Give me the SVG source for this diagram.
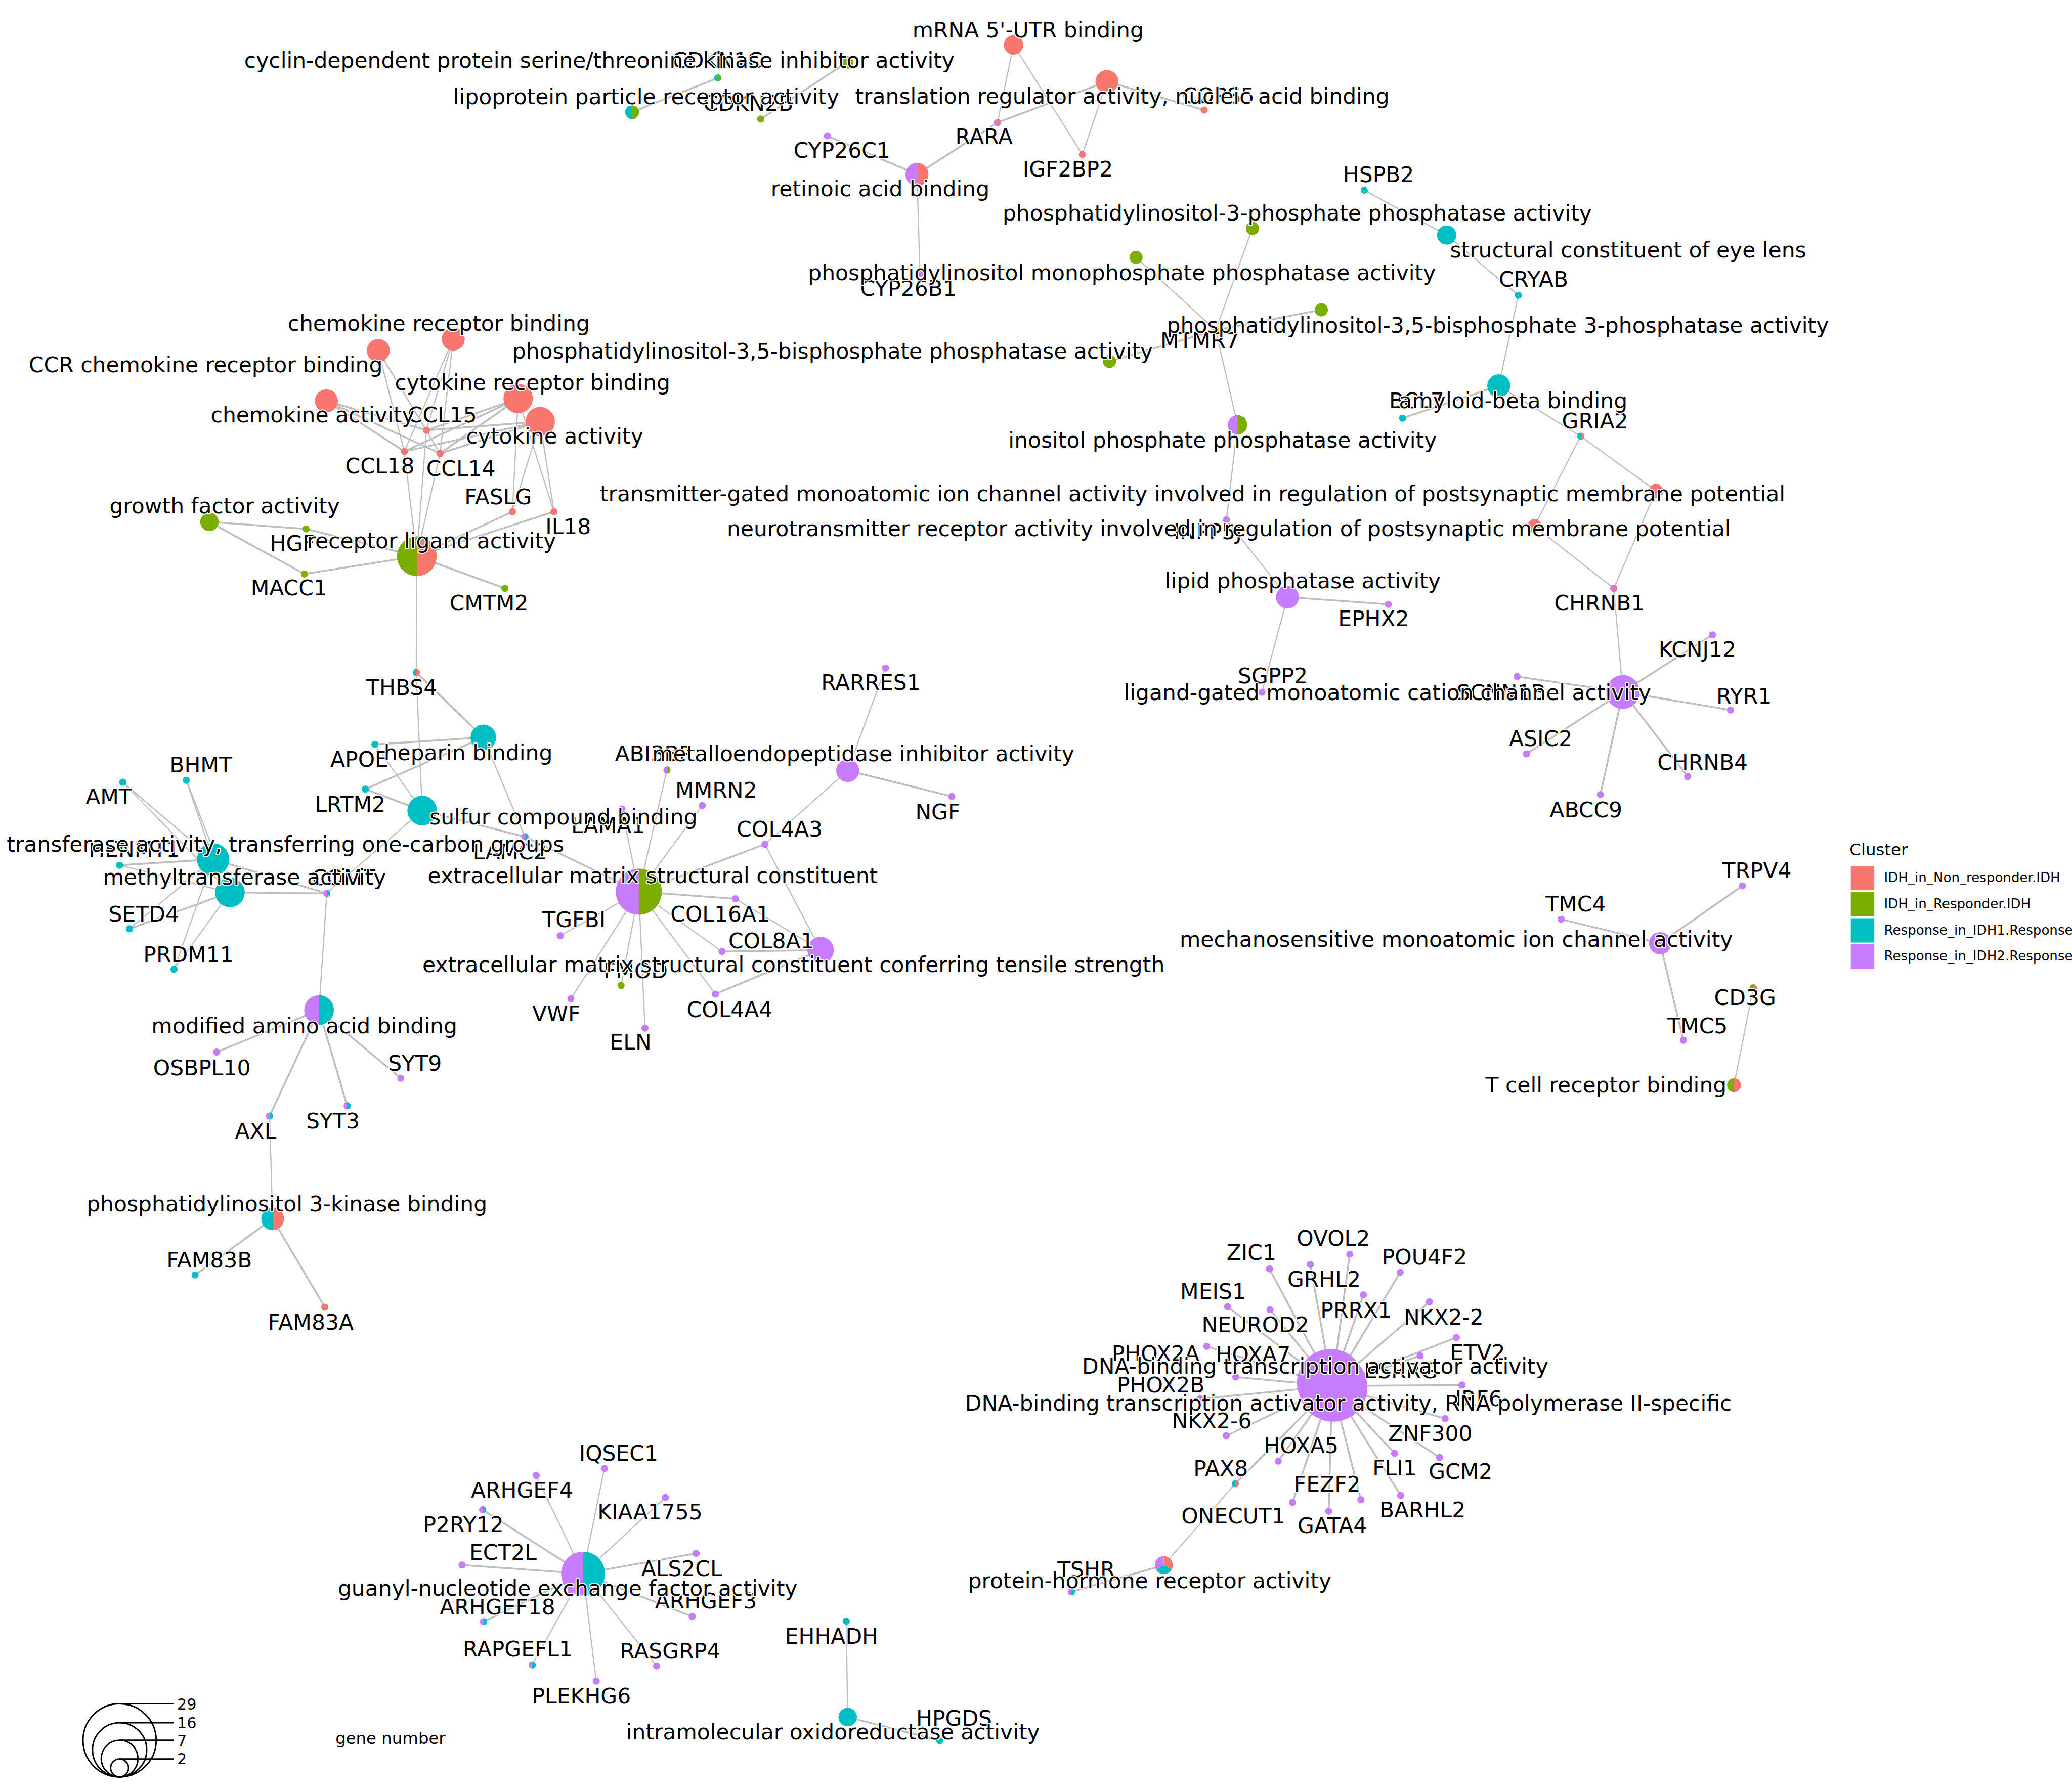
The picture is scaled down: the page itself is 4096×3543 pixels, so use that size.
<svg xmlns="http://www.w3.org/2000/svg" width="4096" height="3543" viewBox="0 0 4096 3543">
<style>
.e{stroke:#bebebe;stroke-width:1.35;fill:none}
.t{stroke-width:0.9}
.r{fill:#F8766D}.g{fill:#7CAE00}.c{fill:#00BFC4}.p{fill:#C77CFF}
.lb{font-family:"DejaVu Sans",sans-serif;font-size:16.25px;text-anchor:middle;fill:#000;stroke:#fff;stroke-width:1.6px;stroke-linejoin:round;paint-order:stroke}
.en{text-anchor:end}
.lg{font-family:"DejaVu Sans",sans-serif;fill:#000}
</style>
<rect width="4096" height="3543" fill="#fff"/>
<g transform="scale(2.61224)">
<g id="edges">
<line class="e" x1="478.3" y1="84.9" x2="543.2" y2="59"/>
<line class="e" x1="575.7" y1="90.1" x2="640.6" y2="47.4"/>
<line class="e t" x1="767" y1="34" x2="754.8" y2="92.8"/>
<line class="e t" x1="767" y1="34" x2="819.1" y2="117"/>
<line class="e" x1="837.7" y1="61.7" x2="754.8" y2="92.8"/>
<line class="e t" x1="837.7" y1="61.7" x2="819.1" y2="117"/>
<line class="e" x1="837.7" y1="61.7" x2="911.3" y2="83.3"/>
<line class="e" x1="754.8" y1="92.8" x2="693.9" y2="132"/>
<line class="e" x1="626.1" y1="102.8" x2="693.9" y2="132"/>
<line class="e t" x1="693.9" y1="132" x2="696.2" y2="207"/>
<line class="e t" x1="947.8" y1="172.8" x2="920" y2="250"/>
<line class="e t" x1="859.7" y1="194.8" x2="920" y2="250"/>
<line class="e" x1="999.9" y1="234.5" x2="920" y2="250"/>
<line class="e" x1="839.6" y1="273.5" x2="920" y2="250"/>
<line class="e t" x1="920" y1="250" x2="936.5" y2="321.5"/>
<line class="e t" x1="936.5" y1="321.5" x2="928.1" y2="393.4"/>
<line class="e t" x1="928.1" y1="393.4" x2="974.3" y2="451.9"/>
<line class="e" x1="974.3" y1="451.9" x2="1050.6" y2="457.4"/>
<line class="e t" x1="974.3" y1="451.9" x2="955" y2="524"/>
<line class="e t" x1="1032.4" y1="143.9" x2="1094.8" y2="177.9"/>
<line class="e t" x1="1094.8" y1="177.9" x2="1149" y2="223.5"/>
<line class="e t" x1="1149" y1="223.5" x2="1134.2" y2="292"/>
<line class="e" x1="1134.2" y1="292" x2="1061.4" y2="316.5"/>
<line class="e t" x1="1134.2" y1="292" x2="1196.2" y2="330.2"/>
<line class="e t" x1="1196.2" y1="330.2" x2="1253.2" y2="371.5"/>
<line class="e t" x1="1196.2" y1="330.2" x2="1161.2" y2="398.2"/>
<line class="e t" x1="1253.2" y1="371.5" x2="1221.2" y2="445.3"/>
<line class="e t" x1="1161.2" y1="398.2" x2="1221.2" y2="445.3"/>
<line class="e t" x1="1221.2" y1="445.3" x2="1228.1" y2="523.7"/>
<line class="e" x1="1228.1" y1="523.7" x2="1295.9" y2="480.5"/>
<line class="e" x1="1228.1" y1="523.7" x2="1309.6" y2="537.4"/>
<line class="e" x1="1228.1" y1="523.7" x2="1277.2" y2="587.7"/>
<line class="e" x1="1228.1" y1="523.7" x2="1211.1" y2="601.4"/>
<line class="e" x1="1228.1" y1="523.7" x2="1155.2" y2="570.6"/>
<line class="e" x1="1228.1" y1="523.7" x2="1148.1" y2="512.1"/>
<line class="e" x1="1256.3" y1="713.9" x2="1318.5" y2="670.5"/>
<line class="e" x1="1256.3" y1="713.9" x2="1181.4" y2="695.8"/>
<line class="e" x1="1256.3" y1="713.9" x2="1273.9" y2="787.4"/>
<line class="e t" x1="1312.2" y1="821.4" x2="1326.8" y2="747.7"/>
<line class="e t" x1="343" y1="256.6" x2="322.7" y2="325.7"/>
<line class="e t" x1="343" y1="256.6" x2="306" y2="341.7"/>
<line class="e t" x1="343" y1="256.6" x2="333" y2="343.2"/>
<line class="e t" x1="286.3" y1="265.3" x2="322.7" y2="325.7"/>
<line class="e t" x1="286.3" y1="265.3" x2="306" y2="341.7"/>
<line class="e t" x1="286.3" y1="265.3" x2="333" y2="343.2"/>
<line class="e" x1="392.1" y1="301.6" x2="322.7" y2="325.7"/>
<line class="e" x1="392.1" y1="301.6" x2="306" y2="341.7"/>
<line class="e" x1="392.1" y1="301.6" x2="333" y2="343.2"/>
<line class="e" x1="247" y1="303.4" x2="322.7" y2="325.7"/>
<line class="e" x1="247" y1="303.4" x2="306" y2="341.7"/>
<line class="e" x1="247" y1="303.4" x2="333" y2="343.2"/>
<line class="e" x1="408.8" y1="319.1" x2="322.7" y2="325.7"/>
<line class="e" x1="408.8" y1="319.1" x2="306" y2="341.7"/>
<line class="e" x1="408.8" y1="319.1" x2="333" y2="343.2"/>
<line class="e t" x1="392.1" y1="301.6" x2="387.8" y2="387.3"/>
<line class="e t" x1="392.1" y1="301.6" x2="419.2" y2="387.3"/>
<line class="e t" x1="408.8" y1="319.1" x2="387.8" y2="387.3"/>
<line class="e t" x1="408.8" y1="319.1" x2="419.2" y2="387.3"/>
<line class="e t" x1="315.4" y1="421" x2="322.7" y2="325.7"/>
<line class="e t" x1="315.4" y1="421" x2="306" y2="341.7"/>
<line class="e t" x1="315.4" y1="421" x2="333" y2="343.2"/>
<line class="e" x1="315.4" y1="421" x2="387.8" y2="387.3"/>
<line class="e" x1="315.4" y1="421" x2="419.2" y2="387.3"/>
<line class="e" x1="315.4" y1="421" x2="231.6" y2="400.3"/>
<line class="e" x1="315.4" y1="421" x2="230.3" y2="434.4"/>
<line class="e" x1="315.4" y1="421" x2="382.1" y2="445.3"/>
<line class="e t" x1="315.4" y1="421" x2="315" y2="509"/>
<line class="e" x1="158.5" y1="395" x2="231.6" y2="400.3"/>
<line class="e" x1="158.5" y1="395" x2="230.3" y2="434.4"/>
<line class="e" x1="315" y1="509" x2="365.8" y2="558.1"/>
<line class="e t" x1="315" y1="509" x2="319.5" y2="613.5"/>
<line class="e" x1="365.8" y1="558.1" x2="283.7" y2="563.4"/>
<line class="e" x1="365.8" y1="558.1" x2="276.5" y2="597.3"/>
<line class="e t" x1="365.8" y1="558.1" x2="397.2" y2="633.3"/>
<line class="e t" x1="319.5" y1="613.5" x2="283.7" y2="563.4"/>
<line class="e" x1="319.5" y1="613.5" x2="276.5" y2="597.3"/>
<line class="e" x1="319.5" y1="613.5" x2="397.2" y2="633.3"/>
<line class="e t" x1="319.5" y1="613.5" x2="247.3" y2="676.2"/>
<line class="e t" x1="161.3" y1="650.4" x2="92.9" y2="592"/>
<line class="e t" x1="161.3" y1="650.4" x2="141" y2="590.6"/>
<line class="e" x1="161.3" y1="650.4" x2="90.5" y2="654.9"/>
<line class="e t" x1="161.3" y1="650.4" x2="98" y2="703"/>
<line class="e t" x1="161.3" y1="650.4" x2="131.7" y2="733.6"/>
<line class="e" x1="161.3" y1="650.4" x2="247.3" y2="676.2"/>
<line class="e t" x1="174" y1="675.5" x2="92.9" y2="592"/>
<line class="e t" x1="174" y1="675.5" x2="141" y2="590.6"/>
<line class="e t" x1="174" y1="675.5" x2="90.5" y2="654.9"/>
<line class="e" x1="174" y1="675.5" x2="98" y2="703"/>
<line class="e t" x1="174" y1="675.5" x2="131.7" y2="733.6"/>
<line class="e" x1="174" y1="675.5" x2="247.3" y2="676.2"/>
<line class="e t" x1="247.3" y1="676.2" x2="241.4" y2="764.5"/>
<line class="e" x1="397.2" y1="633.3" x2="483.4" y2="674.9"/>
<line class="e" x1="241.4" y1="764.5" x2="163.9" y2="796.3"/>
<line class="e" x1="241.4" y1="764.5" x2="303.3" y2="816.1"/>
<line class="e" x1="241.4" y1="764.5" x2="262.7" y2="836.9"/>
<line class="e" x1="241.4" y1="764.5" x2="204" y2="844.7"/>
<line class="e t" x1="204" y1="844.7" x2="206.3" y2="922.5"/>
<line class="e" x1="206.3" y1="922.5" x2="147.6" y2="965"/>
<line class="e" x1="206.3" y1="922.5" x2="245.8" y2="989.4"/>
<line class="e t" x1="483.4" y1="674.9" x2="470.7" y2="612.3"/>
<line class="e t" x1="483.4" y1="674.9" x2="504.7" y2="582.8"/>
<line class="e t" x1="483.4" y1="674.9" x2="531.4" y2="609.7"/>
<line class="e" x1="483.4" y1="674.9" x2="578.9" y2="639"/>
<line class="e" x1="483.4" y1="674.9" x2="556.5" y2="680.3"/>
<line class="e t" x1="483.4" y1="674.9" x2="546.4" y2="720.2"/>
<line class="e t" x1="483.4" y1="674.9" x2="541.4" y2="752.4"/>
<line class="e t" x1="483.4" y1="674.9" x2="488.1" y2="778.2"/>
<line class="e t" x1="483.4" y1="674.9" x2="470" y2="745.9"/>
<line class="e t" x1="483.4" y1="674.9" x2="432" y2="756"/>
<line class="e t" x1="483.4" y1="674.9" x2="424" y2="708.2"/>
<line class="e t" x1="641.5" y1="583.2" x2="670.1" y2="505.6"/>
<line class="e" x1="641.5" y1="583.2" x2="720.3" y2="602.8"/>
<line class="e t" x1="641.5" y1="583.2" x2="578.9" y2="639"/>
<line class="e t" x1="621" y1="719.1" x2="578.9" y2="639"/>
<line class="e t" x1="621" y1="719.1" x2="556.5" y2="680.3"/>
<line class="e" x1="621" y1="719.1" x2="546.4" y2="720.2"/>
<line class="e" x1="621" y1="719.1" x2="541.4" y2="752.4"/>
<line class="e" x1="1008" y1="1049" x2="1021.4" y2="949.3"/>
<line class="e" x1="1008" y1="1049" x2="960.7" y2="960.4"/>
<line class="e" x1="1008" y1="1049" x2="1059.6" y2="963"/>
<line class="e" x1="1008" y1="1049" x2="991.6" y2="957"/>
<line class="e" x1="1008" y1="1049" x2="929" y2="989.1"/>
<line class="e" x1="1008" y1="1049" x2="961.1" y2="991.3"/>
<line class="e" x1="1008" y1="1049" x2="1031.8" y2="980"/>
<line class="e" x1="1008" y1="1049" x2="1081.7" y2="985.3"/>
<line class="e" x1="1008" y1="1049" x2="1102.1" y2="1012.3"/>
<line class="e" x1="1008" y1="1049" x2="1074.7" y2="1026.1"/>
<line class="e" x1="1008" y1="1049" x2="913.2" y2="1019"/>
<line class="e" x1="1008" y1="1049" x2="935.2" y2="1042.2"/>
<line class="e" x1="1008" y1="1049" x2="908.2" y2="1058.8"/>
<line class="e" x1="1008" y1="1049" x2="1106.4" y2="1048.3"/>
<line class="e" x1="1008" y1="1049" x2="927.9" y2="1086.7"/>
<line class="e" x1="1008" y1="1049" x2="1093.6" y2="1073.7"/>
<line class="e" x1="1008" y1="1049" x2="967.3" y2="1105.9"/>
<line class="e" x1="1008" y1="1049" x2="1055.4" y2="1100"/>
<line class="e" x1="1008" y1="1049" x2="1089.4" y2="1103.2"/>
<line class="e" x1="1008" y1="1049" x2="934.8" y2="1123"/>
<line class="e" x1="1008" y1="1049" x2="1029.9" y2="1135.1"/>
<line class="e" x1="1008" y1="1049" x2="978.1" y2="1137.2"/>
<line class="e" x1="1008" y1="1049" x2="1005.5" y2="1143.8"/>
<line class="e" x1="1008" y1="1049" x2="1060" y2="1131.9"/>
<line class="e t" x1="934.8" y1="1123" x2="880.7" y2="1184.6"/>
<line class="e" x1="880.7" y1="1184.6" x2="810.8" y2="1204.8"/>
<line class="e t" x1="441.2" y1="1191" x2="457.4" y2="1111.4"/>
<line class="e t" x1="441.2" y1="1191" x2="405.8" y2="1116.7"/>
<line class="e t" x1="441.2" y1="1191" x2="503.5" y2="1133.4"/>
<line class="e" x1="441.2" y1="1191" x2="365.2" y2="1142.7"/>
<line class="e" x1="441.2" y1="1191" x2="349.7" y2="1184.5"/>
<line class="e" x1="441.2" y1="1191" x2="526.8" y2="1175.7"/>
<line class="e" x1="441.2" y1="1191" x2="365.9" y2="1227.4"/>
<line class="e" x1="441.2" y1="1191" x2="523.8" y2="1223.5"/>
<line class="e t" x1="441.2" y1="1191" x2="402.8" y2="1260.1"/>
<line class="e t" x1="441.2" y1="1191" x2="496.9" y2="1260.9"/>
<line class="e t" x1="441.2" y1="1191" x2="451.2" y2="1272.4"/>
<line class="e t" x1="441.2" y1="1191" x2="432.3" y2="1204.2"/>
<line class="e t" x1="641.5" y1="1299.6" x2="640.4" y2="1227"/>
<line class="e" x1="641.5" y1="1299.6" x2="711.2" y2="1317.5"/>
</g>
<g id="nodes">
<g id="node-cyclin"><circle class="g" cx="640.6" cy="47.4" r="5"/></g>
<g id="node-lipoprotein"><circle class="c" cx="478.3" cy="84.9" r="5.2"/><path class="g" d="M478.3,79.7A5.2,5.2 0 0 1 478.3,90.1Z"/></g>
<g id="node-mrna"><circle class="r" cx="767" cy="34" r="7.3"/></g>
<g id="node-translation"><circle class="r" cx="837.7" cy="61.7" r="8.7"/></g>
<g id="node-retinoic"><circle class="p" cx="693.9" cy="132" r="8.7"/><path class="r" d="M693.9,123.3A8.7,8.7 0 0 1 693.9,140.7Z"/></g>
<g id="node-pi3p"><circle class="g" cx="947.8" cy="172.8" r="5"/></g>
<g id="node-pimono"><circle class="g" cx="859.7" cy="194.8" r="5"/></g>
<g id="node-pi35b3"><circle class="g" cx="999.9" cy="234.5" r="5"/></g>
<g id="node-pi35b"><circle class="g" cx="839.6" cy="273.5" r="5"/></g>
<g id="node-inositol"><circle class="p" cx="936.5" cy="321.5" r="7.3"/><path class="g" d="M936.5,314.2A7.3,7.3 0 0 1 936.5,328.8Z"/></g>
<g id="node-lipid"><circle class="p" cx="974.3" cy="451.9" r="8.7"/></g>
<g id="node-eyelens"><circle class="c" cx="1094.8" cy="177.9" r="7.3"/></g>
<g id="node-amyloid"><circle class="c" cx="1134.2" cy="292" r="8.7"/></g>
<g id="node-transmitter"><circle class="r" cx="1253.2" cy="371.5" r="5.3"/></g>
<g id="node-neurotransmitter"><circle class="r" cx="1161.2" cy="398.2" r="5.3"/></g>
<g id="node-ligandgated"><circle class="p" cx="1228.1" cy="523.7" r="12.8"/></g>
<g id="node-mechano"><circle class="p" cx="1256.3" cy="713.9" r="8.4"/></g>
<g id="node-tcell"><circle class="g" cx="1312.2" cy="821.4" r="5.2"/><path class="r" d="M1312.2,816.2A5.2,5.2 0 0 1 1312.2,826.6Z"/></g>
<g id="node-chemrb"><circle class="r" cx="343" cy="256.6" r="8.7"/></g>
<g id="node-ccr"><circle class="r" cx="286.3" cy="265.3" r="8.7"/></g>
<g id="node-cytrb"><circle class="r" cx="392.1" cy="301.6" r="11.1"/></g>
<g id="node-chemact"><circle class="r" cx="247" cy="303.4" r="8.7"/></g>
<g id="node-cytact"><circle class="r" cx="408.8" cy="319.1" r="11.1"/></g>
<g id="node-growth"><circle class="g" cx="158.5" cy="395" r="7"/></g>
<g id="node-receptorligand"><circle class="g" cx="315.4" cy="421" r="15"/><path class="r" d="M315.4,406A15,15 0 0 1 315.4,436Z"/></g>
<g id="node-heparin"><circle class="c" cx="365.8" cy="558.1" r="9.7"/></g>
<g id="node-sulfur"><circle class="c" cx="319.5" cy="613.5" r="11.2"/></g>
<g id="node-transferase"><circle class="c" cx="161.3" cy="650.4" r="12.2"/></g>
<g id="node-methyl"><circle class="c" cx="174" cy="675.5" r="11.2"/></g>
<g id="node-modified"><circle class="p" cx="241.4" cy="764.5" r="11.2"/><path class="c" d="M241.4,753.3A11.2,11.2 0 0 1 241.4,775.7Z"/></g>
<g id="node-pi3k"><circle class="c" cx="206.3" cy="922.5" r="8.6"/><path class="r" d="M206.3,913.9A8.6,8.6 0 0 1 206.3,931.1Z"/></g>
<g id="node-ecm"><circle class="p" cx="483.4" cy="674.9" r="17.4"/><path class="g" d="M483.4,657.5A17.4,17.4 0 0 1 483.4,692.3Z"/></g>
<g id="node-metallo"><circle class="p" cx="641.5" cy="583.2" r="8.7"/></g>
<g id="node-tensile"><circle class="p" cx="621" cy="719.1" r="10"/></g>
<g id="node-dna"><circle class="p" cx="1007" cy="1046.5" r="25.5"/></g>
<g id="node-dna2"><circle class="p" cx="1008.8" cy="1050" r="26"/></g>
<g id="node-proteinhormone"><path class="r" d="M880.7,1184.6L880.7,1177.8A6.8,6.8 0 0 1 886.589,1188Z"/><path class="c" d="M880.7,1184.6L886.589,1188A6.8,6.8 0 0 1 874.811,1188Z"/><path class="p" d="M880.7,1184.6L874.811,1188A6.8,6.8 0 0 1 880.7,1177.8Z"/></g>
<g id="node-guanyl"><circle class="p" cx="441.2" cy="1191" r="16.6"/><path class="c" d="M441.2,1174.4A16.6,16.6 0 0 1 441.2,1207.6Z"/></g>
<g id="node-intramolecular"><circle class="c" cx="641.5" cy="1299.6" r="7"/></g>
<g id="node-CDKN1C"><circle class="c" cx="543.2" cy="59" r="2.7"/><path class="g" d="M543.2,56.3A2.7,2.7 0 0 1 543.2,61.7Z"/></g>
<g id="node-CDKN2B"><circle class="g" cx="575.7" cy="90.1" r="2.7"/></g>
<g id="node-COPS5"><circle class="r" cx="911.3" cy="83.3" r="2.7"/></g>
<g id="node-RARA"><circle class="p" cx="754.8" cy="92.8" r="2.7"/><path class="r" d="M754.8,90.1A2.7,2.7 0 0 1 754.8,95.5Z"/></g>
<g id="node-IGF2BP2"><circle class="r" cx="819.1" cy="117" r="2.7"/></g>
<g id="node-CYP26C1"><circle class="p" cx="626.1" cy="102.8" r="2.7"/></g>
<g id="node-CYP26B1"><circle class="p" cx="696.2" cy="207" r="2.7"/></g>
<g id="node-HSPB2"><circle class="c" cx="1032.4" cy="143.9" r="2.7"/></g>
<g id="node-CRYAB"><circle class="c" cx="1149" cy="223.5" r="2.7"/></g>
<g id="node-MTMR7"><circle class="g" cx="920" cy="250" r="2.7"/></g>
<g id="node-INPP5J"><circle class="p" cx="928.1" cy="393.4" r="2.7"/></g>
<g id="node-EPHX2"><circle class="p" cx="1050.6" cy="457.4" r="2.7"/></g>
<g id="node-SGPP2"><circle class="p" cx="955" cy="524" r="2.7"/></g>
<g id="node-BGENE"><circle class="c" cx="1061.4" cy="316.5" r="2.7"/></g>
<g id="node-GRIA2"><circle class="c" cx="1196.2" cy="330.2" r="2.7"/><path class="r" d="M1196.2,327.5A2.7,2.7 0 0 1 1196.2,332.9Z"/></g>
<g id="node-CHRNB1"><circle class="p" cx="1221.2" cy="445.3" r="2.7"/><path class="r" d="M1221.2,442.6A2.7,2.7 0 0 1 1221.2,448Z"/></g>
<g id="node-KCNJ12"><circle class="p" cx="1295.9" cy="480.5" r="2.7"/></g>
<g id="node-RYR1"><circle class="p" cx="1309.6" cy="537.4" r="2.7"/></g>
<g id="node-CHRNB4"><circle class="p" cx="1277.2" cy="587.7" r="2.7"/></g>
<g id="node-ABCC9"><circle class="p" cx="1211.1" cy="601.4" r="2.7"/></g>
<g id="node-ASIC2"><circle class="p" cx="1155.2" cy="570.6" r="2.7"/></g>
<g id="node-SCNN1B"><circle class="p" cx="1148.1" cy="512.1" r="2.7"/></g>
<g id="node-TRPV4"><circle class="p" cx="1318.5" cy="670.5" r="2.7"/></g>
<g id="node-TMC4"><circle class="p" cx="1181.4" cy="695.8" r="2.7"/></g>
<g id="node-TMC5"><circle class="p" cx="1273.9" cy="787.4" r="2.7"/></g>
<g id="node-CD3G"><circle class="g" cx="1326.8" cy="747.7" r="2.7"/><path class="r" d="M1326.8,745A2.7,2.7 0 0 1 1326.8,750.4Z"/></g>
<g id="node-CCL15"><circle class="r" cx="322.7" cy="325.7" r="2.7"/></g>
<g id="node-CCL18"><circle class="r" cx="306" cy="341.7" r="2.7"/></g>
<g id="node-CCL14"><circle class="r" cx="333" cy="343.2" r="2.7"/></g>
<g id="node-FASLG"><circle class="r" cx="387.8" cy="387.3" r="2.7"/></g>
<g id="node-IL18"><circle class="r" cx="419.2" cy="387.3" r="2.7"/></g>
<g id="node-HGF"><circle class="g" cx="231.6" cy="400.3" r="2.7"/></g>
<g id="node-MACC1"><circle class="g" cx="230.3" cy="434.4" r="2.7"/></g>
<g id="node-CMTM2"><circle class="g" cx="382.1" cy="445.3" r="2.7"/></g>
<g id="node-THBS4"><circle class="c" cx="315" cy="509" r="2.7"/><path class="r" d="M315,506.3A2.7,2.7 0 0 1 315,511.7Z"/></g>
<g id="node-APOE"><circle class="c" cx="283.7" cy="563.4" r="2.7"/></g>
<g id="node-LRTM2"><circle class="c" cx="276.5" cy="597.3" r="2.7"/></g>
<g id="node-LAMC2"><circle class="p" cx="397.2" cy="633.3" r="2.7"/><path class="c" d="M397.2,630.6A2.7,2.7 0 0 1 397.2,636Z"/></g>
<g id="node-COMT"><circle class="p" cx="247.3" cy="676.2" r="2.7"/><path class="c" d="M247.3,673.5A2.7,2.7 0 0 1 247.3,678.9Z"/></g>
<g id="node-AMT"><circle class="c" cx="92.9" cy="592" r="2.7"/></g>
<g id="node-BHMT"><circle class="c" cx="141" cy="590.6" r="2.7"/></g>
<g id="node-HENMT1"><circle class="c" cx="90.5" cy="654.9" r="2.7"/></g>
<g id="node-SETD4"><circle class="c" cx="98" cy="703" r="2.7"/></g>
<g id="node-PRDM11"><circle class="c" cx="131.7" cy="733.6" r="2.7"/></g>
<g id="node-OSBPL10"><circle class="p" cx="163.9" cy="796.3" r="2.7"/></g>
<g id="node-SYT9"><circle class="p" cx="303.3" cy="816.1" r="2.7"/></g>
<g id="node-SYT3"><circle class="p" cx="262.7" cy="836.9" r="2.7"/><path class="c" d="M262.7,834.2A2.7,2.7 0 0 1 262.7,839.6Z"/></g>
<g id="node-AXL"><circle class="p" cx="204" cy="844.7" r="2.7"/><path class="c" d="M204,842A2.7,2.7 0 0 1 204,847.4Z"/></g>
<g id="node-FAM83B"><circle class="c" cx="147.6" cy="965" r="2.7"/></g>
<g id="node-FAM83A"><circle class="r" cx="245.8" cy="989.4" r="2.7"/></g>
<g id="node-RARRES1"><circle class="p" cx="670.1" cy="505.6" r="2.7"/></g>
<g id="node-ABI3BP"><circle class="p" cx="504.7" cy="582.8" r="2.7"/><path class="g" d="M504.7,580.1A2.7,2.7 0 0 1 504.7,585.5Z"/></g>
<g id="node-NGF"><circle class="p" cx="720.3" cy="602.8" r="2.7"/></g>
<g id="node-MMRN2"><circle class="p" cx="531.4" cy="609.7" r="2.7"/></g>
<g id="node-LAMA1"><circle class="p" cx="470.7" cy="612.3" r="2.7"/></g>
<g id="node-COL4A3"><circle class="p" cx="578.9" cy="639" r="2.7"/></g>
<g id="node-TGFBI"><circle class="p" cx="424" cy="708.2" r="2.7"/></g>
<g id="node-COL16A1"><circle class="p" cx="556.5" cy="680.3" r="2.7"/></g>
<g id="node-COL8A1"><circle class="p" cx="546.4" cy="720.2" r="2.7"/></g>
<g id="node-FMOD"><circle class="g" cx="470" cy="745.9" r="2.7"/></g>
<g id="node-VWF"><circle class="p" cx="432" cy="756" r="2.7"/></g>
<g id="node-ELN"><circle class="p" cx="488.1" cy="778.2" r="2.7"/></g>
<g id="node-COL4A4"><circle class="p" cx="541.4" cy="752.4" r="2.7"/></g>
<g id="node-OVOL2"><circle class="p" cx="1021.4" cy="949.3" r="2.7"/></g>
<g id="node-ZIC1"><circle class="p" cx="960.7" cy="960.4" r="2.7"/></g>
<g id="node-POU4F2"><circle class="p" cx="1059.6" cy="963" r="2.7"/></g>
<g id="node-GRHL2"><circle class="p" cx="991.6" cy="957" r="2.7"/></g>
<g id="node-MEIS1"><circle class="p" cx="929" cy="989.1" r="2.7"/></g>
<g id="node-NEUROD2"><circle class="p" cx="961.1" cy="991.3" r="2.7"/></g>
<g id="node-PRRX1"><circle class="p" cx="1031.8" cy="980" r="2.7"/></g>
<g id="node-NKX2-2"><circle class="p" cx="1081.7" cy="985.3" r="2.7"/></g>
<g id="node-ETV2"><circle class="p" cx="1102.1" cy="1012.3" r="2.7"/></g>
<g id="node-ESRRG"><circle class="p" cx="1074.7" cy="1026.1" r="2.7"/></g>
<g id="node-PHOX2A"><circle class="p" cx="913.2" cy="1019" r="2.7"/></g>
<g id="node-HOXA7"><circle class="p" cx="935.2" cy="1042.2" r="2.7"/></g>
<g id="node-PHOX2B"><circle class="p" cx="908.2" cy="1058.8" r="2.7"/></g>
<g id="node-IRF6"><circle class="p" cx="1106.4" cy="1048.3" r="2.7"/></g>
<g id="node-NKX2-6"><circle class="p" cx="927.9" cy="1086.7" r="2.7"/></g>
<g id="node-ZNF300"><circle class="p" cx="1093.6" cy="1073.7" r="2.7"/></g>
<g id="node-HOXA5"><circle class="p" cx="967.3" cy="1105.9" r="2.7"/></g>
<g id="node-FLI1"><circle class="p" cx="1055.4" cy="1100" r="2.7"/></g>
<g id="node-GCM2"><circle class="p" cx="1089.4" cy="1103.2" r="2.7"/></g>
<g id="node-PAX8"><circle class="c" cx="934.8" cy="1123" r="2.7"/><path class="r" d="M934.8,1120.3A2.7,2.7 0 0 1 934.8,1125.7Z"/></g>
<g id="node-FEZF2"><circle class="p" cx="1029.9" cy="1135.1" r="2.7"/></g>
<g id="node-ONECUT1"><circle class="p" cx="978.1" cy="1137.2" r="2.7"/></g>
<g id="node-GATA4"><circle class="p" cx="1005.5" cy="1143.8" r="2.7"/></g>
<g id="node-BARHL2"><circle class="p" cx="1060" cy="1131.9" r="2.7"/></g>
<g id="node-TSHR"><circle class="p" cx="810.8" cy="1204.8" r="2.7"/><path class="c" d="M810.8,1202.1A2.7,2.7 0 0 1 810.8,1207.5Z"/></g>
<g id="node-IQSEC1"><circle class="p" cx="457.4" cy="1111.4" r="2.7"/></g>
<g id="node-ARHGEF4"><circle class="p" cx="405.8" cy="1116.7" r="2.7"/></g>
<g id="node-KIAA1755"><circle class="p" cx="503.5" cy="1133.4" r="2.7"/></g>
<g id="node-P2RY12"><circle class="p" cx="365.2" cy="1142.7" r="2.7"/><path class="c" d="M365.2,1140A2.7,2.7 0 0 1 365.2,1145.4Z"/></g>
<g id="node-ECT2L"><circle class="p" cx="349.7" cy="1184.5" r="2.7"/></g>
<g id="node-ALS2CL"><circle class="p" cx="526.8" cy="1175.7" r="2.7"/></g>
<g id="node-ARHGEF18"><circle class="p" cx="365.9" cy="1227.4" r="2.7"/><path class="c" d="M365.9,1224.7A2.7,2.7 0 0 1 365.9,1230.1Z"/></g>
<g id="node-ARHGEF3"><circle class="p" cx="523.8" cy="1223.5" r="2.7"/></g>
<g id="node-RAPGEFL1"><circle class="p" cx="402.8" cy="1260.1" r="2.7"/><path class="c" d="M402.8,1257.4A2.7,2.7 0 0 1 402.8,1262.8Z"/></g>
<g id="node-RASGRP4"><circle class="p" cx="496.9" cy="1260.9" r="2.7"/></g>
<g id="node-PLEKHG6"><circle class="p" cx="451.2" cy="1272.4" r="2.7"/></g>
<g id="node-hidden-guanyl"><circle class="p" cx="432.3" cy="1204.2" r="2.7"/></g>
<g id="node-EHHADH"><circle class="c" cx="640.4" cy="1227" r="2.7"/></g>
<g id="node-HPGDS"><circle class="c" cx="711.2" cy="1317.5" r="2.7"/></g>
</g>
<g id="labels">
<text class="lb" x="543" y="51.4">CDKN1C</text>
<text class="lb" x="566.2" y="83.8">CDKN2B</text>
<text class="lb" x="922" y="78">COPS5</text>
<text class="lb" x="744.7" y="109.1">RARA</text>
<text class="lb" x="808.1" y="133.6">IGF2BP2</text>
<text class="lb" x="637.1" y="119.4">CYP26C1</text>
<text class="lb" x="687.4" y="224">CYP26B1</text>
<text class="lb" x="1043.2" y="137.8">HSPB2</text>
<text class="lb" x="1160.5" y="216.9">CRYAB</text>
<text class="lb" x="908" y="263.5">MTMR7</text>
<text class="lb" x="914" y="407.9">INPP5J</text>
<text class="lb" x="1039.5" y="473.8">EPHX2</text>
<text class="lb" x="963.2" y="517.2">SGPP2</text>
<text class="lb" x="1072" y="309.1">BCL7</text>
<text class="lb" x="1207" y="324.1">GRIA2</text>
<text class="lb" x="1210.4" y="461.9">CHRNB1</text>
<text class="lb" x="1284.5" y="497.3">KCNJ12</text>
<text class="lb" x="1319.8" y="532.4">RYR1</text>
<text class="lb" x="1288.4" y="582.5">CHRNB4</text>
<text class="lb" x="1200.2" y="618.5">ABCC9</text>
<text class="lb" x="1165.9" y="564.5">ASIC2</text>
<text class="lb" x="1136" y="529.8">SCNN1B</text>
<text class="lb" x="1329.5" y="664.7">TRPV4</text>
<text class="lb" x="1192.4" y="689.7">TMC4</text>
<text class="lb" x="1284.6" y="781.9">TMC5</text>
<text class="lb" x="1320.6" y="760.8">CD3G</text>
<text class="lb" x="334.7" y="319.5">CCL15</text>
<text class="lb" x="287.5" y="358.5">CCL18</text>
<text class="lb" x="348.8" y="360.3">CCL14</text>
<text class="lb" x="377" y="381.7">FASLG</text>
<text class="lb" x="430" y="404.4">IL18</text>
<text class="lb" x="221.3" y="416.8">HGF</text>
<text class="lb" x="218.7" y="450.5">MACC1</text>
<text class="lb" x="370" y="462">CMTM2</text>
<text class="lb" x="304" y="526">THBS4</text>
<text class="lb" x="272" y="580.4">APOE</text>
<text class="lb" x="265" y="614.3">LRTM2</text>
<text class="lb" x="386" y="650.4">LAMC2</text>
<text class="lb" x="101.6" y="648.6">HENMT1</text>
<text class="lb" x="260" y="670">COMT</text>
<text class="lb" x="82.3" y="608.5">AMT</text>
<text class="lb" x="152" y="584.5">BHMT</text>
<text class="lb" x="108.8" y="697.3">SETD4</text>
<text class="lb" x="142.6" y="728">PRDM11</text>
<text class="lb" x="152.8" y="813.8">OSBPL10</text>
<text class="lb" x="314" y="810.6">SYT9</text>
<text class="lb" x="251.9" y="854">SYT3</text>
<text class="lb" x="193.5" y="861.8">AXL</text>
<text class="lb" x="158.4" y="959.3">FAM83B</text>
<text class="lb" x="235.2" y="1006.6">FAM83A</text>
<text class="lb" x="659" y="522">RARRES1</text>
<text class="lb" x="494.5" y="576.2">ABI3BP</text>
<text class="lb" x="709.7" y="620">NGF</text>
<text class="lb" x="542" y="603.8">MMRN2</text>
<text class="lb" x="460.2" y="630.6">LAMA1</text>
<text class="lb" x="590" y="633.3">COL4A3</text>
<text class="lb" x="434.4" y="701.6">TGFBI</text>
<text class="lb" x="545" y="697.4">COL16A1</text>
<text class="lb" x="583.7" y="717.7">COL8A1</text>
<text class="lb" x="481" y="740.2">FMOD</text>
<text class="lb" x="421" y="772.9">VWF</text>
<text class="lb" x="477.2" y="794.4">ELN</text>
<text class="lb" x="552.2" y="769.7">COL4A4</text>
<text class="lb" x="1009" y="942.8">OVOL2</text>
<text class="lb" x="947" y="953.7">ZIC1</text>
<text class="lb" x="1078" y="957">POU4F2</text>
<text class="lb" x="1002" y="974">GRHL2</text>
<text class="lb" x="918" y="983.2">MEIS1</text>
<text class="lb" x="950" y="1008.5">NEUROD2</text>
<text class="lb" x="1026.2" y="997.2">PRRX1</text>
<text class="lb" x="1092.5" y="1002.4">NKX2-2</text>
<text class="lb" x="1118.2" y="1029.3">ETV2</text>
<text class="lb" x="1060" y="1043.2">ESRRG</text>
<text class="lb" x="874.5" y="1030.1">PHOX2A</text>
<text class="lb" x="948.4" y="1031.1">HOXA7</text>
<text class="lb" x="878.4" y="1053.9">PHOX2B</text>
<text class="lb" x="1119" y="1064.4">IRF6</text>
<text class="lb" x="917" y="1081">NKX2-6</text>
<text class="lb" x="1082.4" y="1090.7">ZNF300</text>
<text class="lb" x="984.7" y="1099.8">HOXA5</text>
<text class="lb" x="1055.4" y="1116.6">FLI1</text>
<text class="lb" x="1105.3" y="1119.4">GCM2</text>
<text class="lb" x="923.8" y="1117">PAX8</text>
<text class="lb" x="1004.4" y="1129.1">FEZF2</text>
<text class="lb" x="933.3" y="1152.9">ONECUT1</text>
<text class="lb" x="1008.2" y="1160.4">GATA4</text>
<text class="lb" x="1076.5" y="1148.3">BARHL2</text>
<text class="lb" x="822" y="1193.7">TSHR</text>
<text class="lb" x="468.1" y="1105.5">IQSEC1</text>
<text class="lb" x="395" y="1133.6">ARHGEF4</text>
<text class="lb" x="491.9" y="1150.1">KIAA1755</text>
<text class="lb" x="350.7" y="1159.7">P2RY12</text>
<text class="lb" x="380.7" y="1180.5">ECT2L</text>
<text class="lb" x="515.9" y="1192.8">ALS2CL</text>
<text class="lb" x="376.5" y="1221.8">ARHGEF18</text>
<text class="lb" x="534.2" y="1217.4">ARHGEF3</text>
<text class="lb" x="391.8" y="1253.7">RAPGEFL1</text>
<text class="lb" x="507.2" y="1255.1">RASGRP4</text>
<text class="lb" x="440" y="1289.4">PLEKHG6</text>
<text class="lb" x="629.3" y="1244.1">EHHADH</text>
<text class="lb" x="722" y="1306.1">HPGDS</text>
<text class="lb" x="453.6" y="51.4">cyclin-dependent protein serine/threonine kinase inhibitor activity</text>
<text class="lb" x="489" y="79">lipoprotein particle receptor activity</text>
<text class="lb" x="778" y="28.5">mRNA 5'-UTR binding</text>
<text class="lb" x="849.3" y="78.3">translation regulator activity, nucleic acid binding</text>
<text class="lb" x="666.1" y="148.6">retinoic acid binding</text>
<text class="lb" x="981.7" y="166.8">phosphatidylinositol-3-phosphate phosphatase activity</text>
<text class="lb" x="1232.1" y="195">structural constituent of eye lens</text>
<text class="lb" x="849" y="212.1">phosphatidylinositol monophosphate phosphatase activity</text>
<text class="lb" x="1133.5" y="251.7">phosphatidylinositol-3,5-bisphosphate 3-phosphatase activity</text>
<text class="lb en" x="872.5" y="271.4">phosphatidylinositol-3,5-bisphosphate phosphatase activity</text>
<text class="lb" x="1145.1" y="309.1">amyloid-beta binding</text>
<text class="lb" x="925.2" y="338.9">inositol phosphate phosphatase activity</text>
<text class="lb" x="902.5" y="379.4">transmitter-gated monoatomic ion channel activity involved in regulation of postsynaptic membrane potential</text>
<text class="lb en" x="1309.8" y="405.8">neurotransmitter receptor activity involved in regulation of postsynaptic membrane potential</text>
<text class="lb" x="985.9" y="445.3">lipid phosphatase activity</text>
<text class="lb en" x="1249.5" y="529.8">ligand-gated monoatomic cation channel activity</text>
<text class="lb en" x="1311.3" y="716.8">mechanosensitive monoatomic ion channel activity</text>
<text class="lb" x="1215.4" y="826.7">T cell receptor binding</text>
<text class="lb" x="332" y="250.5">chemokine receptor binding</text>
<text class="lb" x="155.7" y="281.9">CCR chemokine receptor binding</text>
<text class="lb" x="403" y="295.2">cytokine receptor binding</text>
<text class="lb" x="236.6" y="319.5">chemokine activity</text>
<text class="lb" x="419.8" y="335.6">cytokine activity</text>
<text class="lb" x="170" y="388.7">growth factor activity</text>
<text class="lb" x="326.5" y="415.1">receptor ligand activity</text>
<text class="lb" x="354.3" y="575.2">heparin binding</text>
<text class="lb" x="426.4" y="624">sulfur compound binding</text>
<text class="lb" x="216" y="644.7">transferase activity, transferring one-carbon groups</text>
<text class="lb" x="185.1" y="669.7">methyltransferase activity</text>
<text class="lb" x="230.3" y="781.9">modified amino acid binding</text>
<text class="lb" x="217.1" y="917">phosphatidylinositol 3-kinase binding</text>
<text class="lb" x="653.3" y="576.2">metalloendopeptidase inhibitor activity</text>
<text class="lb" x="494" y="668.5">extracellular matrix structural constituent</text>
<text class="lb" x="600.5" y="735.6">extracellular matrix structural constituent conferring tensile strength</text>
<text class="lb" x="995.3" y="1039.8">DNA-binding transcription activator activity</text>
<text class="lb" x="1020.4" y="1067.5">DNA-binding transcription activator activity, RNA polymerase II-specific</text>
<text class="lb" x="870.1" y="1202.2">protein-hormone receptor activity</text>
<text class="lb" x="429.6" y="1207.7">guanyl-nucleotide exchange factor activity</text>
<text class="lb" x="630.4" y="1316.6">intramolecular oxidoreductase activity</text>
</g>
<g id="legend-cluster">
<text class="lg" x="1399.7" y="647.5" font-size="12.4">Cluster</text>
<rect class="r" x="1400.6" y="655.4" width="17.8" height="18.4"/>
<rect class="g" x="1400.6" y="675.2" width="17.8" height="18.4"/>
<rect class="c" x="1400.6" y="695" width="17.8" height="18.4"/>
<rect class="p" x="1400.6" y="714.7" width="17.8" height="18.4"/>
<text class="lg" x="1425.8" y="667.8" font-size="10">IDH_in_Non_responder.IDH</text>
<text class="lg" x="1425.8" y="687.6" font-size="10">IDH_in_Responder.IDH</text>
<text class="lg" x="1425.8" y="707.3" font-size="10">Response_in_IDH1.Response</text>
<text class="lg" x="1425.8" y="727.1" font-size="10">Response_in_IDH2.Response</text>
</g>
<g id="legend-size" fill="none" stroke="#000" stroke-width="1.1">
<circle cx="90.5" cy="1317.2" r="27.7"/>
<circle cx="90.5" cy="1324.4" r="20.5"/>
<circle cx="90.5" cy="1331" r="13.9"/>
<circle cx="90.5" cy="1338.1" r="6.8"/>
<line x1="90.5" y1="1289.5" x2="131.6" y2="1289.5"/>
<line x1="90.5" y1="1303.9" x2="131.6" y2="1303.9"/>
<line x1="90.5" y1="1317.1" x2="131.6" y2="1317.1"/>
<line x1="90.5" y1="1331.3" x2="131.6" y2="1331.3"/>
<text class="lg" stroke="none" fill="#000" x="134" y="1293.9" font-size="11.6">29</text>
<text class="lg" stroke="none" fill="#000" x="134" y="1307.9" font-size="11.6">16</text>
<text class="lg" stroke="none" fill="#000" x="134" y="1321.4" font-size="11.6">7</text>
<text class="lg" stroke="none" fill="#000" x="134" y="1335.4" font-size="11.6">2</text>
<text class="lg" stroke="none" fill="#000" x="295.5" y="1320.1" font-size="12.4" text-anchor="middle">gene number</text>
</g>
</g>
</svg>
